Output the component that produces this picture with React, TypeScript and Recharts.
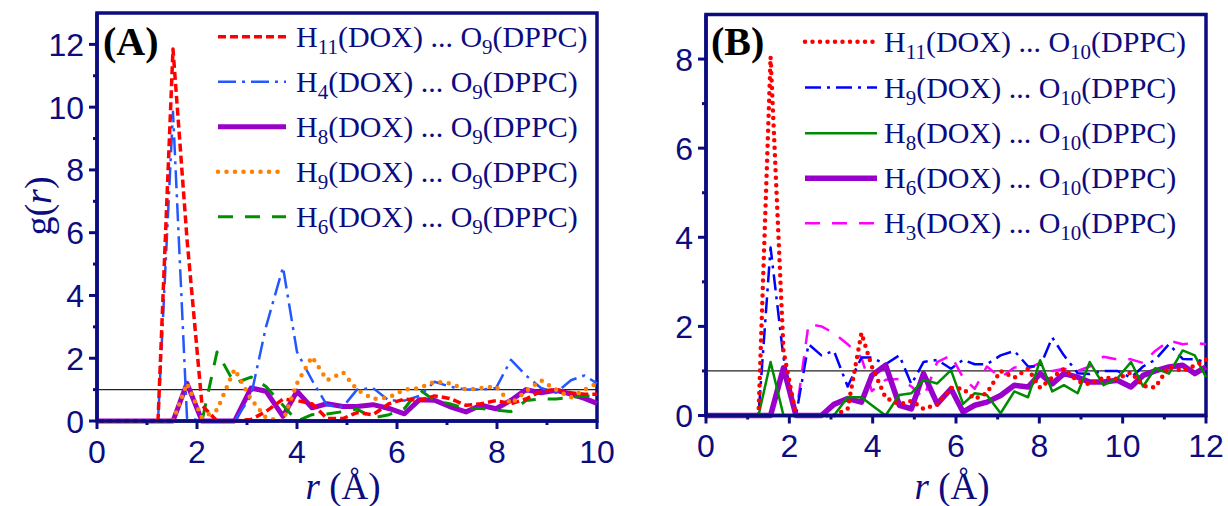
import React from "react";
import { LineChart, Line, XAxis, YAxis, ReferenceLine, ReferenceArea, Legend } from "recharts";

const NAVY = "#0c0c80";
const SERIF = '"Liberation Serif", "Times New Roman", serif';
const SANS = '"Liberation Sans", Arial, sans-serif';

// ---- panel A : H(DOX) ... O9(DPPC) ----
const rA = [0, 1.22, 1.52, 1.8, 2.1, 2.4, 2.75, 3.08, 3.38, 3.72, 4.0, 4.3, 4.6, 4.92, 5.2, 5.52, 5.84, 6.15, 6.45, 6.75, 7.05, 7.38, 7.68, 7.98, 8.28, 8.58, 8.88, 9.18, 9.48, 9.75, 10.0];
const aH11 = [0, 0, 11.85, 5.8, 0.5, 0, 0, 0.05, 0.3, 0.7, 0.65, 0.55, 0.08, 0.08, 0.27, 0.2, 0.55, 0.7, 0.65, 0.8, 0.72, 0.5, 0.55, 0.65, 0.55, 0.7, 0.95, 1.0, 0.9, 0.85, 0.85];
const aH4 = [0, 0, 9.85, 0.1, 0, 0, 0, 0.8, 3.0, 4.9, 2.2, 1.3, 0.5, 0.45, 1.0, 1.05, 0.65, 0.65, 0.8, 1.25, 1.1, 1.0, 1.0, 1.05, 1.95, 1.45, 1.05, 0.9, 1.3, 1.45, 1.2];
const aH8 = [0, 0, 0, 1.2, 0, 0, 0, 1.05, 0.95, 0.15, 0.95, 0.42, 0.55, 0.46, 0.46, 0.52, 0.4, 0.23, 0.68, 0.66, 0.46, 0.29, 0.5, 0.39, 0.66, 1.0, 0.9, 0.98, 0.86, 0.72, 0.56];
const aH9 = [0, 0, 0, 1.2, 0.1, 0.35, 1.65, 0.7, 0.1, 0, 1.2, 2.05, 1.3, 1.55, 1.0, 0.7, 0.75, 1.0, 1.05, 1.25, 1.2, 1.0, 1.05, 1.1, 0.55, 0.95, 1.3, 1.0, 0.75, 1.0, 1.2];
const aH6 = [0, 0, 0, 0, 0, 2.2, 1.2, 1.4, 1.1, 0.5, 0, 0.2, 0.22, 0.3, 0.38, 0.1, 0.2, 0.4, 1.0, 0.65, 0.55, 0.4, 0.4, 0.35, 0.3, 0.65, 0.7, 0.7, 0.75, 0.8, 0.8];

// ---- panel B : H(DOX) ... O10(DPPC) ----
const rB = [0, 1.26, 1.55, 1.86, 2.16, 2.46, 2.77, 3.07, 3.4, 3.73, 3.98, 4.31, 4.64, 4.93, 5.22, 5.55, 5.88, 6.17, 6.45, 6.74, 7.07, 7.4, 7.73, 8.02, 8.31, 8.59, 8.92, 9.21, 9.54, 9.87, 10.2, 10.49, 10.78, 11.11, 11.44, 11.73, 12.0];
const bH11 = [0, 0, 8.05, 1.45, 0, 0, 0, 0, 0.15, 1.85, 1.1, 0.4, 0.25, 0.33, 0.15, 0.25, 0.62, 0.6, 0.37, 0.5, 1.0, 0.85, 1.05, 0.62, 0.85, 1.05, 0.77, 0.7, 0.85, 0.82, 0.97, 0.66, 0.63, 1.1, 1.0, 1.12, 1.25];
const bH9 = [0, 0, 3.77, 1.3, 0, 1.6, 1.35, 1.45, 0.65, 1.3, 1.3, 1.15, 1.35, 0.7, 1.2, 1.25, 1.05, 1.25, 1.15, 1.15, 1.35, 1.45, 1.1, 1.1, 1.75, 1.35, 0.95, 0.93, 1.0, 1.0, 0.85, 1.1, 1.25, 1.6, 1.27, 1.26, 1.2];
const bH8 = [0, 0, 1.2, 0, 0, 0, 0, 0, 0.41, 0.41, 0.23, 0, 0.46, 0.5, 0.8, 0.72, 1.02, 0.26, 0.5, 0.46, 0.05, 0.54, 0.41, 1.24, 0.54, 0.68, 0.5, 1.2, 0.68, 0.83, 1.2, 0.65, 1.06, 0.94, 1.46, 1.35, 0.86];
const bH6 = [0, 0, 0, 1.07, 0, 0, 0, 0.25, 0.38, 0.3, 0.9, 1.13, 0.23, 0.15, 0.94, 0.26, 0.6, 0.08, 0.23, 0.3, 0.45, 0.68, 0.64, 0.94, 0.71, 0.94, 0.86, 0.75, 0.75, 0.79, 0.64, 0.9, 1.0, 1.09, 1.13, 0.94, 1.09];
const bH3 = [0, 0, 0, 0, 0, 2.05, 2.0, 1.85, 1.6, 1.3, 0.55, 0.8, 0.82, 0.65, 0.4, 1.2, 1.35, 0.85, 0.6, 1.1, 0.85, 1.08, 1.05, 1.18, 1.0, 1.05, 1.0, 1.1, 1.32, 1.26, 1.26, 1.18, 1.45, 1.68, 1.6, 1.63, 1.6];

const xTicksA = [0, 1, 2, 3, 4, 5, 6, 7, 8, 9, 10];
const yTicksA = [0, 1, 2, 3, 4, 5, 6, 7, 8, 9, 10, 11, 12];
const xTicksB = [0, 1, 2, 3, 4, 5, 6, 7, 8, 9, 10, 11, 12];
const yTicksB = [0, 1, 2, 3, 4, 5, 6, 7, 8];

const rowsA = rA.map((r, i) => ({ r, h11: aH11[i], h4: aH4[i], h8: aH8[i], h9: aH9[i], h6: aH6[i] }));
const rowsB = rB.map((r, i) => ({ r, h11: bH11[i], h9: bH9[i], h8: bH8[i], h6: bH6[i], h3: bH3[i] }));

type Series = { key: string; h: string; color: string; width: number; dash?: string; cap?: "round" | "butt" };

// legend order
const seriesA: Series[] = [
  { key: "h11", h: "11", color: "#ff0000", width: 3.5, dash: "8 4" },
  { key: "h4", h: "4", color: "#2458ff", width: 2.5, dash: "18 6 3 6" },
  { key: "h8", h: "8", color: "#9a00c8", width: 5 },
  { key: "h9", h: "9", color: "#ff8000", width: 4.5, dash: "0 8.5", cap: "round" },
  { key: "h6", h: "6", color: "#009000", width: 3, dash: "15 12" },
];
const seriesB: Series[] = [
  { key: "h11", h: "11", color: "#ff0000", width: 4.5, dash: "0 7.5", cap: "round" },
  { key: "h9", h: "9", color: "#0000ff", width: 2.5, dash: "16 6 3 6" },
  { key: "h8", h: "8", color: "#008c00", width: 2.5 },
  { key: "h6", h: "6", color: "#9900cc", width: 5.5 },
  { key: "h3", h: "3", color: "#ff00ff", width: 2.5, dash: "15 12" },
];
// drawing order (bottom first)
const drawA = ["h8", "h6", "h4", "h11", "h9"];
const drawB = ["h3", "h9", "h6", "h8", "h11"];

const TICK = 8;

function YTick(props: any) {
  const { x, y, payload } = props;
  const v = payload.value;
  const major = v % 2 === 0;
  const ax = x + TICK + 5;
  return (
    <g>
      <line x1={ax - (major ? 8 : 4)} x2={ax} y1={y} y2={y} stroke={NAVY} strokeWidth={3} />
      {major && (
        <text x={x} y={y} dy="0.36em" textAnchor="end" fontSize={32} fontFamily={SANS} fill={NAVY}>
          {v}
        </text>
      )}
    </g>
  );
}

function XTick(props: any) {
  const { x, y, payload } = props;
  const v = payload.value;
  const major = v % 2 === 0;
  const ay = y - TICK - 11;
  return (
    <g>
      <line x1={x} x2={x} y1={ay} y2={ay + (major ? 8 : 4)} stroke={NAVY} strokeWidth={3} />
      {major && (
        <text x={x} y={y} dy="0.71em" textAnchor="middle" fontSize={32} fontFamily={SANS} fill={NAVY}>
          {v}
        </text>
      )}
    </g>
  );
}

function XTitle(props: any) {
  const vb = props.viewBox;
  return (
    <text x={vb.x + vb.width / 2 - 4} y={499} textAnchor="middle" fontSize={37} fontFamily={SERIF} fill={NAVY}>
      <tspan fontStyle="italic">r</tspan> (Å)
    </text>
  );
}

function GTitle() {
  return (
    <text x={38} y={206} transform="rotate(-90 38 206)" textAnchor="middle" dominantBaseline="central" fontSize={38} fontFamily={SERIF} fill={NAVY}>
      g(<tspan fontStyle="italic">r</tspan>)
    </text>
  );
}

function LegendBox(p: { items: Series[]; o: string; tag: string; tagX: number; x0: number; x1: number; tx: number; rows: number[]; w: number }) {
  return (
    <svg width={p.w} height={506} style={{ overflow: "visible" }}>
      <text x={p.tagX} y={55} fontSize={40} fontWeight="bold" fontFamily={SERIF} fill="#000">
        {p.tag}
      </text>
      {p.items.map((s, i) => (
        <g key={s.key}>
          <line x1={p.x0} x2={p.x1} y1={p.rows[i]} y2={p.rows[i]} stroke={s.color} strokeWidth={s.width} strokeDasharray={s.dash} strokeLinecap={s.cap || "butt"} />
          <text x={p.tx} y={p.rows[i] + 10} fontSize={30} fontFamily={SERIF} fill={NAVY}>
            H<tspan dy={7} fontSize={21}>{s.h}</tspan>
            <tspan dy={-7}>(DOX) ... O</tspan>
            <tspan dy={7} fontSize={21}>{p.o}</tspan>
            <tspan dy={-7}>(DPPC)</tspan>
          </text>
        </g>
      ))}
    </svg>
  );
}

function Panel(p: {
  w: number; yw: number; right: number; top: number; xh: number;
  rows: any[]; series: Series[]; draw: string[]; xMax: number; yMax: number;
  xTicks: number[]; yTicks: number[]; legend: React.ReactNode; yTitle: boolean;
}) {
  const border = { stroke: NAVY, strokeWidth: 3.5 };
  return (
    <LineChart width={p.w} height={506} data={p.rows} margin={{ top: p.top, right: p.right, bottom: 0, left: 0 }}>
      <XAxis dataKey="r" type="number" domain={[0, p.xMax]} ticks={p.xTicks} interval={0} height={p.xh}
        axisLine={border} tickLine={false} tickSize={TICK} tickMargin={11} tick={(t: any) => <XTick {...t} />}
        label={{ content: (l: any) => <XTitle {...l} /> }} />
      <YAxis type="number" domain={[0, p.yMax]} ticks={p.yTicks} interval={0} width={p.yw}
        axisLine={border} tickLine={false} tickSize={TICK} tickMargin={5} tick={(t: any) => <YTick {...t} />}
        label={p.yTitle ? { content: () => <GTitle /> } : undefined} />
      <ReferenceArea x1={0} x2={p.xMax} y1={0} y2={p.yMax} fill="none" fillOpacity={0} stroke={NAVY} strokeWidth={3.5} />
      <ReferenceLine y={1} stroke="#222" strokeWidth={1.3} />
      {p.draw.map((k) => {
        const s = p.series.find((q) => q.key === k)!;
        return (
          <Line key={k} dataKey={k} type="linear" stroke={s.color} strokeWidth={s.width} strokeDasharray={s.dash}
            strokeLinecap={s.cap || "butt"} strokeLinejoin="round" dot={false} activeDot={false} isAnimationActive={false} />
        );
      })}
      <Legend layout="vertical" align="center" verticalAlign="middle"
        wrapperStyle={{ left: 0, top: 0, width: p.w, height: 506, pointerEvents: "none" }}
        content={() => p.legend} />
    </LineChart>
  );
}

export default function App() {
  return (
    <div style={{ position: "absolute", left: 0, top: 0, width: 1228, height: 506, background: "#fff" }}>
      <div style={{ position: "absolute", left: 0, top: 0 }}>
        <Panel w={640} yw={97} right={43} top={13} xh={85} rows={rowsA} series={seriesA} draw={drawA}
          xMax={10} yMax={13} xTicks={xTicksA} yTicks={yTicksA} yTitle
          legend={<LegendBox items={seriesA} o="9" tag="(A)" tagX={103} x0={218} x1={286} tx={296} rows={[36.7, 81.7, 126.7, 171.7, 216.7]} w={640} />} />
      </div>
      <div style={{ position: "absolute", left: 614, top: 0 }}>
        <Panel w={614} yw={92} right={22} top={14.5} xh={90.5} rows={rowsB} series={seriesB} draw={drawB}
          xMax={12} yMax={9} xTicks={xTicksB} yTicks={yTicksB} yTitle={false}
          legend={<LegendBox items={seriesB} o="10" tag="(B)" tagX={97} x0={191} x1={263} tx={270} rows={[41.7, 87.5, 133.3, 178.3, 223.3]} w={614} />} />
      </div>
    </div>
  );
}
